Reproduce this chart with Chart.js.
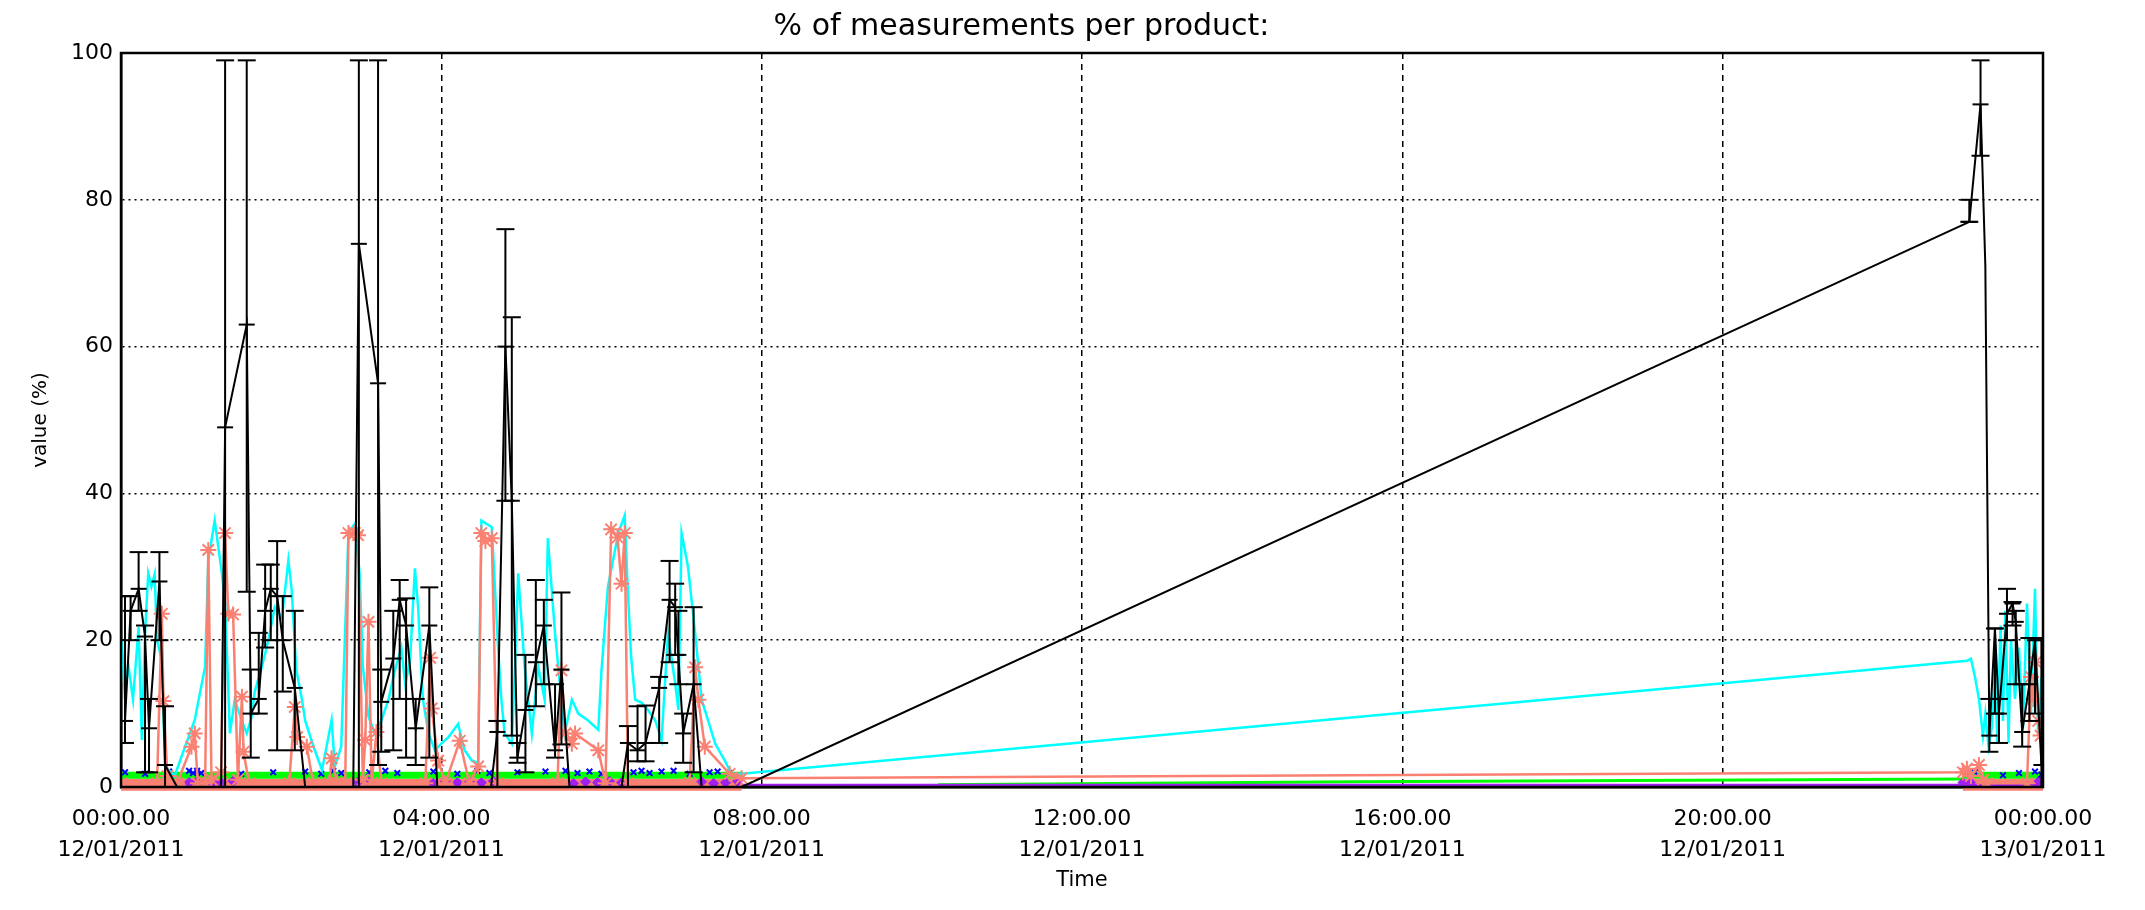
<!DOCTYPE html>
<html>
<head>
<meta charset="utf-8">
<script src="https://cdn.jsdelivr.net/npm/chart.js@4.4.1/dist/chart.umd.min.js"></script>
<style>
  body { margin: 0; background: #fff; }
  canvas { display: block; }
</style>
</head>
<body>
<canvas id="productChart" width="2145" height="910"></canvas>
<script>
// hours after 00:00 12/01/2011
var blkT = [0.05, 0.12, 0.22, 0.30, 0.35, 0.48, 0.55, 0.70, 1.25, 1.30,
  1.57, 1.62, 1.72, 1.80, 1.87, 1.95, 2.02, 2.17, 2.30, 2.90,
  2.97, 3.21, 3.25, 3.40, 3.48, 3.56, 3.68, 3.85, 3.95, 4.62,
  4.70, 4.80, 4.88, 4.95, 5.05, 5.18, 5.28, 5.42, 5.50, 5.60,
  6.25, 6.33, 6.45, 6.55, 6.72, 6.85, 6.92, 6.96, 7.02, 7.15,
  7.25, 7.75, 23.08, 23.22, 23.28, 23.33, 23.40, 23.45, 23.55, 23.62,
  23.66, 23.74, 23.83, 23.90, 23.98];
var blkMean = [9, 24, 27, 20.5, 8, 28, 3, 0, 0, 49,
  63, 10, 12, 24, 27, 26, 20, 13.5, 0, 0,
  74, 55, 11.6, 17.5, 25.5, 22, 8, 22, 0, 0,
  7.5, 60, 39, 4, 10.5, 17, 22, 5, 16, 0,
  0, 6, 5, 6, 13.5, 25.5, 24.5, 18, 7.3, 14,
  0, 0, 77, 93, 71, 7, 21.6, 10, 23.6, 25,
  22.5, 7.5, 14, 20, 3];
var blkLo = [6, 20, 24, 2, 2, 20, 0, 0, 0, 0,
  26.6, 4, 10, 19, 20, 5, 13, 5, 0, 0,
  0, 3, 4.8, 5, 12, 4, 3, 4, 0, 0,
  0, 39, 7, 3.3, 2, 11, 14, 4, 5.8, 0,
  0, 0, 3.5, 3.5, 6, 17, 18, 14, 3.3, 2,
  0, 0, 77, 86, 71, 4.8, 10, 6, 20, 22,
  14, 5.5, 9, 10, 0];
var blkHi = [26, 26, 32, 22, 12, 32, 11, 0, 0, 99,
  99, 16, 21, 30.3, 30.3, 33.5, 26, 24, 0, 0,
  99, 99, 16, 24, 28.2, 25.7, 12, 27.2, 0, 0,
  9, 76, 64, 6, 18, 28.2, 25.5, 14, 26.5, 0,
  0, 8.3, 11, 11.1, 15, 30.8, 27.7, 24, 10, 24.5,
  0, 0, 80, 99, 71, 12, 21.6, 12, 27, 25.2,
  24, 14, 20.3, 20.3, 20];

var cyanT = [0.01, 0.05, 0.09, 0.15, 0.22, 0.26, 0.30, 0.34, 0.38, 0.42,
  0.45, 0.51, 0.55, 0.67, 0.80, 0.92, 1.05, 1.09, 1.17, 1.26,
  1.30, 1.36, 1.42, 1.51, 1.57, 1.63, 1.67, 1.76, 1.84, 1.92,
  2.01, 2.09, 2.13, 2.19, 2.26, 2.30, 2.42, 2.51, 2.63, 2.67,
  2.75, 2.84, 2.92, 2.98, 3.02, 3.09, 3.17, 3.25, 3.34, 3.42,
  3.50, 3.55, 3.61, 3.67, 3.71, 3.77, 3.84, 3.92, 4.00, 4.09,
  4.21, 4.29, 4.38, 4.46, 4.50, 4.63, 4.71, 4.75, 4.79, 4.88,
  4.92, 4.96, 5.04, 5.13, 5.21, 5.29, 5.33, 5.42, 5.46, 5.54,
  5.63, 5.71, 5.83, 5.96, 6.00, 6.08, 6.21, 6.29, 6.33, 6.37,
  6.42, 6.50, 6.58, 6.67, 6.75, 6.83, 6.92, 6.96, 7.00, 7.08,
  7.17, 7.25, 7.33, 7.42, 7.54, 7.62, 7.75, 23.05, 23.10, 23.15,
  23.20, 23.25, 23.28, 23.32, 23.36, 23.40, 23.43, 23.47, 23.50, 23.53,
  23.57, 23.60, 23.65, 23.70, 23.75, 23.80, 23.85, 23.90, 23.94, 23.98];
var cyanV = [20, 12, 16.8, 11.9, 21.8, 6.4, 20.9, 29.1, 27.3, 29,
  20, 17.3, 2.8, 1.5, 5.5, 9.1, 16.4, 30.9, 36.3, 29.1,
  25, 7.3, 11.9, 9, 7.3, 9.5, 13, 16.4, 20, 24.5,
  23, 30.9, 27, 15.9, 11.9, 9, 5, 2.3, 9.1, 2.8,
  5.5, 34.6, 35.9, 29.1, 16.4, 9.6, 7.3, 9, 11.9, 15.9,
  19, 14, 17.3, 29.8, 24.5, 11.9, 7.3, 5.0, 5.9, 6.8,
  8.6, 5, 3.6, 3.3, 36.3, 35.4, 18.7, 11.9, 7.3, 5.9,
  16.4, 29.1, 16.4, 7.3, 16.4, 11.9, 33.9, 20.9, 16.4, 7.3,
  11.9, 10, 9.1, 7.8, 15.9, 27.3, 34.6, 37.0, 26.4, 17.8,
  11.9, 11.5, 10.5, 9.1, 6.4, 20.9, 14.1, 10.5, 34.6, 30.0,
  20.9, 11.9, 9.1, 5.9, 3.6, 1.8, 1.8, 17.2, 17.5, 15,
  12, 7, 10, 5.5, 8, 16, 6, 22, 9, 24,
  6, 20, 12, 19, 8, 25, 10, 27, 7, 15];

var salT = [0, 0.45, 0.51, 0.53, 0.58, 0.70, 0.88, 0.92, 0.96, 1.05,
  1.09, 1.13, 1.25, 1.30, 1.34, 1.40, 1.46, 1.51, 1.53, 1.60,
  2.10, 2.17, 2.20, 2.32, 2.40, 2.60, 2.63, 2.70, 2.80, 2.84,
  2.92, 2.96, 3.02, 3.05, 3.09, 3.13, 3.19, 3.25, 3.80, 3.86,
  3.88, 3.96, 4.05, 4.23, 4.35, 4.46, 4.50, 4.55, 4.63, 4.70,
  5.45, 5.50, 5.55, 5.63, 5.67, 5.96, 6.05, 6.12, 6.20, 6.25,
  6.29, 6.33, 7.10, 7.17, 7.21, 7.29, 7.60, 7.75, 23.00, 23.05,
  23.10, 23.20, 23.25, 23.30, 23.80, 23.85, 23.88, 23.91, 23.94, 23.97];
var salV = [0.5, 0.5, 23.6, 11.7, 1.5, 0.5, 5.5, 7.3, 0.5, 0.5,
  32.3, 1, 2, 34.6, 23.6, 23.5, 1, 12.3, 4.8, 0.5,
  0.5, 10.9, 6.8, 5.5, 0.5, 0.5, 3.9, 0.5, 0.5, 34.6,
  34.6, 34.3, 1, 6.4, 22.5, 0.5, 7.5, 0.5, 0.5, 17.6,
  10.7, 3.6, 0.5, 6.3, 0.5, 2.8, 34.6, 33.5, 33.9, 0.5,
  0.5, 15.9, 7.3, 5.9, 7.3, 5.0, 0.5, 35.1, 34.0, 27.7,
  34.6, 0.5, 0.5, 16.3, 11.9, 5.5, 1.8, 1.2, 2.0, 2.5,
  1.5, 3.0, 1.0, 0.5, 0.5, 15, 12, 17, 9, 7];
var salBaseT = [0, 7.75, 7.76, 23.0, 24];
var salBaseV = [0.3, 0.3, null, 0.3, 0.3];

var grnBandT = [0, 7.75, 7.76, 23.0, 24];
var grnBandV = [1.6, 1.6, null, 1.6, 1.6];
var grnT = [10.2, 15.4, 23.0];
var grnV = [0.3, 0.7, 1.1];

var bluT = [0.05, 0.3, 0.6, 0.85, 0.9, 0.95, 1.0, 1.5, 1.9, 2.3,
  2.5, 2.65, 2.75, 3.1, 3.3, 3.45, 3.9, 4.2, 4.45, 4.6,
  4.95, 5.3, 5.55, 5.7, 5.85, 6.0, 6.4, 6.5, 6.6, 6.75,
  6.9, 7.1, 7.35, 7.45, 7.6, 23.05, 23.15, 23.5, 23.7, 23.9, 23.98];
var bluV = [2.0, 1.8, 2.1, 2.2, 1.9, 2.2, 1.9, 1.8, 2.0, 2.1,
  1.8, 2.2, 1.9, 2.0, 2.2, 1.9, 2.1, 1.8, 2.2, 1.9,
  2.0, 2.1, 2.2, 1.9, 2.1, 1.8, 2.0, 2.2, 1.9, 2.1,
  2.2, 1.8, 2.0, 2.1, 1.9, 1.8, 2.0, 1.6, 1.9, 2.1, 1.7];

var purT = [0.85, 0.95, 1.05, 1.15, 1.25, 1.4, 2.95, 3.1, 3.9, 4.05,
  4.2, 4.35, 4.5, 4.65, 5.65, 5.8, 5.95, 6.1, 6.25, 7.25,
  7.4, 7.55, 7.7, 23.0, 23.1, 23.95];
var purV = [0.6, 0.8, 0.5, 0.7, 0.6, 0.8, 0.6, 0.7, 0.5, 0.8,
  0.6, 0.7, 0.6, 0.8, 0.5, 0.7, 0.6, 0.8, 0.6, 0.7,
  0.5, 0.6, 0.8, 0.6, 0.7, 0.8];
var purLineT = [7.75, 24];
var purLineV = [0.25, 0.25];

var hourTicks = [0, 4, 8, 12, 16, 20, 24];
var dayLabels = ['12/01/2011', '13/01/2011'];

function pts(t, v) {
  return t.map(function (x, i) { return {x: x, y: v[i]}; });
}

// error bar stems, broken apart with nulls
var stems = [];
var caps = [];
for (let i = 0; i < blkT.length; i += 1) {
  if (blkHi[i] > blkLo[i]) {
    stems.push({x: blkT[i], y: blkLo[i]}, {x: blkT[i], y: blkHi[i]}, {x: blkT[i], y: null});
    caps.push({x: blkT[i], y: blkLo[i]}, {x: blkT[i], y: blkHi[i]});
  }
}
var meanRadius = blkT.map(function (t, i) { return blkHi[i] > blkLo[i] ? 8 : 0; });

var frame = {
  id: 'frame',
  afterDatasetsDraw: function (chart) {
    let a = chart.chartArea;
    let c = chart.ctx;
    c.save();
    c.strokeStyle = '#000';
    c.lineWidth = 2.5;
    c.strokeRect(a.left, a.top, a.right - a.left, a.bottom - a.top);
    c.restore();
  }
};

Chart.defaults.color = '#000';
Chart.defaults.font.family = "'DejaVu Sans', sans-serif";

var ctx = document.getElementById('productChart').getContext('2d');
var chart = new Chart(ctx, {
  type: 'line',
  data: {
    datasets: [
      {data: stems, borderColor: '#000', borderWidth: 2, pointRadius: 0, order: 0},
      {data: caps, showLine: false, pointStyle: 'line', pointRadius: 9,
        pointBorderColor: '#000', pointBorderWidth: 2, order: 0},
      {data: pts(blkT, blkMean), borderColor: '#000', borderWidth: 2, pointStyle: 'line',
        pointRadius: meanRadius, pointBorderColor: '#000', pointBorderWidth: 2, order: 1},
      {data: pts(salT, salV), borderColor: '#fa8072', borderWidth: 2.5, pointStyle: 'star',
        pointRadius: 8, pointBorderColor: '#fa8072', pointBorderWidth: 2, order: 2},
      {data: pts(cyanT, cyanV), borderColor: '#00ffff', borderWidth: 2.5, pointRadius: 0, order: 3},
      {data: pts(bluT, bluV), showLine: false, pointStyle: 'crossRot', pointRadius: 4,
        pointBorderColor: '#0000ff', pointBorderWidth: 2, order: 4},
      {data: pts(purT, purV), showLine: false, pointStyle: 'rectRot', pointRadius: 5,
        pointBackgroundColor: '#a020f0', pointBorderColor: '#a020f0', order: 5},
      {data: pts(purLineT, purLineV), borderColor: '#a020f0', borderWidth: 3, pointRadius: 0, order: 5},
      {data: pts(grnT, grnV), borderColor: '#00ff00', borderWidth: 3, pointRadius: 0, order: 6},
      {data: pts(grnBandT, grnBandV), borderColor: '#00ff00', borderWidth: 7, pointRadius: 0, order: 6},
      {data: pts(salBaseT, salBaseV), borderColor: '#fa8072', borderWidth: 12, pointRadius: 0,
        clip: 8, order: 7}
    ]
  },
  options: {
    responsive: false,
    animation: false,
    devicePixelRatio: 1,
    layout: { padding: {left: 0, right: 102, top: 0, bottom: 0} },
    plugins: {
      legend: { display: false },
      tooltip: { enabled: false },
      title: {
        display: true,
        text: '% of measurements per product:',
        font: {size: 30, weight: 'normal'},
        padding: {top: 9, bottom: 8}
      }
    },
    scales: {
      x: {
        type: 'linear',
        min: 0,
        max: 24,
        afterFit: function (s) { s.height = 123; },
        afterBuildTicks: function (s) { s.ticks = hourTicks.map(function (h) { return {value: h}; }); },
        ticks: {
          autoSkip: false,
          maxRotation: 0,
          padding: 17,
          font: {size: 22, lineHeight: 1.4},
          callback: function (v) {
            let h = v % 24;
            return [String(h).padStart(2, '0') + ':00.00', dayLabels[v >= 24 ? 1 : 0]];
          }
        },
        grid: { color: '#000', lineWidth: 1.5, drawTicks: false },
        border: { color: '#000', width: 2.5, dash: [6, 5] },
        title: { display: true, text: 'Time', font: {size: 21}, padding: {top: 0, bottom: 17} }
      },
      y: {
        min: 0,
        max: 100,
        afterFit: function (s) { s.width = 121; },
        ticks: { stepSize: 20, padding: 8, font: {size: 22} },
        grid: { color: '#000', lineWidth: 1.5, drawTicks: false },
        border: { color: '#000', width: 2.5, dash: [2, 4] },
        title: { display: true, text: 'value (%)', font: {size: 20}, padding: {top: 29, bottom: 0} }
      }
    }
  },
  plugins: [frame]
});
</script>
</body>
</html>
